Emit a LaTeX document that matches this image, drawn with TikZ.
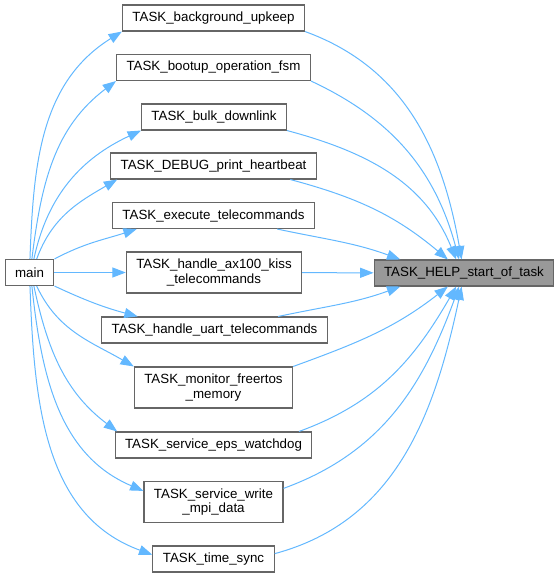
\documentclass[tikz,border=0pt]{standalone}
\usepackage{fontspec}
\setmainfont{Liberation Sans}
\usetikzlibrary{arrows.meta}
\definecolor{dxEdge}{RGB}{99,184,255}
\definecolor{dxBorder}{RGB}{102,102,102}
\definecolor{dxFocus}{RGB}{153,153,153}

\begin{document}
\begin{tikzpicture}[
    x=0.75pt, y=-0.75pt,
    every node/.style={font=\fontsize{10}{10.7}\selectfont},
    task/.style ={rectangle, draw=dxBorder, fill=white, line width=0.8pt, align=center, inner xsep=7.5pt, inner ysep=3pt, minimum height=19.5pt},
    task2/.style={task, minimum height=30.75pt},
    focus/.style={task, fill=dxFocus},
    call/.style ={-{Triangle[length=10pt, width=7.5pt]}, line width=0.75pt, draw=dxEdge}
]
\useasboundingbox (0,0) rectangle (560,578);
% caller, callee
\node[task] (main) at (29.5,272.5) {main};
\node[focus] (help) at (464,273) {TASK\_HELP\_start\_of\_task};
% the tasks in between
\node[task] (bg) at (213.5,18) {TASK\_background\_upkeep};
\node[task] (boot) at (213.5,67.5) {TASK\_bootup\_operation\_fsm};
\node[task] (bulk) at (214,117) {TASK\_bulk\_downlink};
\node[task] (debug) at (213.5,166) {TASK\_DEBUG\_print\_heartbeat};
\node[task] (exec) at (213.5,215.5) {TASK\_execute\_telecommands};
\node[task2] (ax100) at (214,272.5) {TASK\_handle\_ax100\_kiss\\\_telecommands};
\node[task] (uart) at (214.5,330) {TASK\_handle\_uart\_telecommands};
\node[task2] (monitor) at (213.5,387.5) {TASK\_monitor\_freertos\\\_memory};
\node[task] (eps) at (213.5,445) {TASK\_service\_eps\_watchdog};
\node[task2] (mpi) at (213.5,502) {TASK\_service\_write\\\_mpi\_data};
\node[task] (time) at (213.5,559) {TASK\_time\_sync};
% main -> tasks
\draw[call] (main.88) to[out=88, in=212] (bg.south west);
\draw[call] (main.80) to[out=83, in=217] (boot.south west);
\draw[call] (main.72) to[out=78, in=205] (bulk.south west);
\draw[call] (main.62) to[out=70, in=210] (debug.188);
\draw[call] (main.north east) to[out=28, in=198] (exec.190);
\draw[call] (main) -- (ax100);
\draw[call] (main.south east) to[out=-25, in=165] (uart.170);
\draw[call] (main.-62) to[out=-65, in=150] (monitor.north west);
\draw[call] (main.-72) to[out=-78, in=143] (eps.172);
\draw[call] (main.-80) to[out=-84, in=157] (mpi.171);
\draw[call] (main.-88) to[out=-88, in=160] (time.176);
% tasks -> start_of_task
\draw[call] (bg.south east) to[out=-20, in=100] (help.100);
\draw[call] (boot.south east) to[out=-25, in=105] (help.110);
\draw[call] (bulk.south east) to[out=-15, in=112] (help.120);
\draw[call] (debug.-10) to[out=-15, in=140] (help.140);
\draw[call] (exec.-12) to[out=-12, in=160] (help.168);
\draw[call] (ax100) -- (help);
\draw[call] (uart.12) to[out=12, in=200] (help.192);
\draw[call] (monitor.north east) to[out=20, in=218] (help.220);
\draw[call] (eps.9) to[out=20, in=240] (help.240);
\draw[call] (mpi.11) to[out=20, in=250] (help.250);
\draw[call] (time.5) to[out=15, in=258] (help.260);
\end{tikzpicture}
\end{document}
